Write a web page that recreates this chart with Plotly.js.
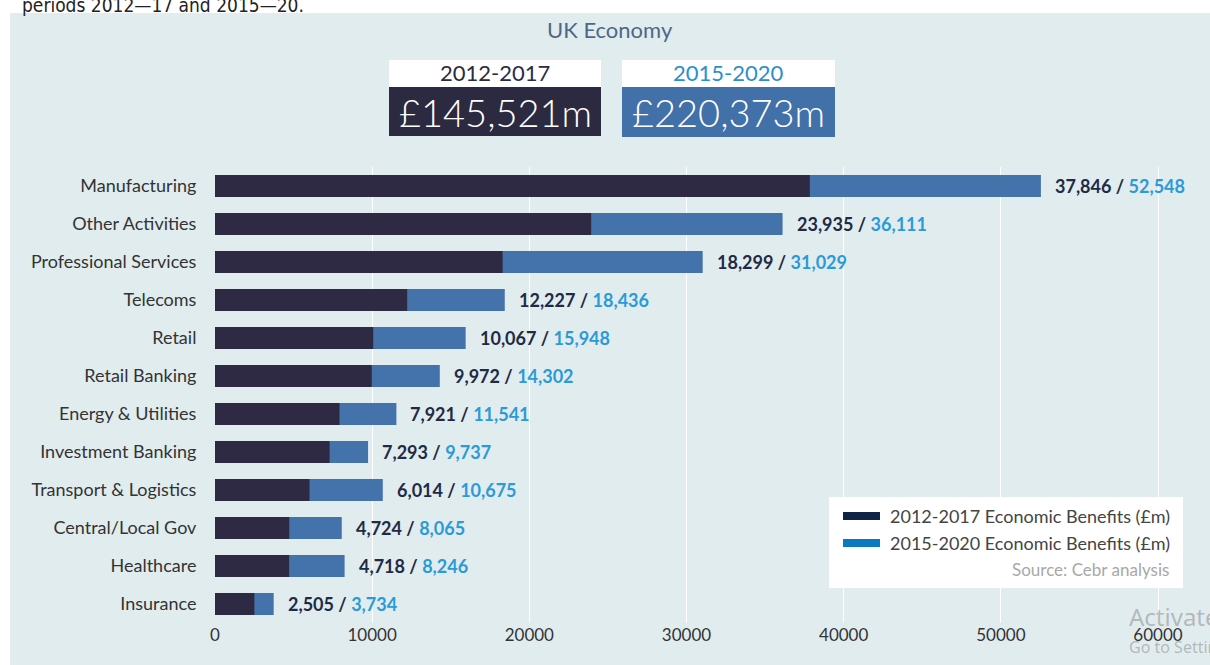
<!DOCTYPE html>
<html>
<head>
<meta charset="utf-8">
<script src="https://cdn.plot.ly/plotly-3.0.1.min.js"></script>
<style>html,body{margin:0;padding:0;background:#fff;}#chart{width:1210px;height:665px;}</style>
</head>
<body>
<div id="chart"></div>
<script>
const categories = ["Manufacturing","Other Activities","Professional Services","Telecoms","Retail","Retail Banking","Energy & Utilities","Investment Banking","Transport & Logistics","Central/Local Gov","Healthcare","Insurance"];
const benefits2012_2017 = [37846,23935,18299,12227,10067,9972,7921,7293,6014,4724,4718,2505];
const benefits2015_2020 = [52548,36111,31029,18436,15948,14302,11541,9737,10675,8065,8246,3734];
const xTicks = [0,10000,20000,30000,40000,50000,60000];
const totalLabels = ["2012-2017","2015-2020"];
const totalValues = ["£145,521m","£220,373m"];
const seriesNames = ["2012-2017 Economic Benefits (£m)","2015-2020 Economic Benefits (£m)"];

const W = 1210, H = 665, L = 215, R = 10, T = 167, B = 42;
const pw = W - L - R, ph = H - T - B;
const px = x => (x - L) / pw;
const py = y => (H - B - y) / ph;

const FONT = "Lato, 'Open Sans', sans-serif";
const darkBar = "#2e2a43", blueBar = "#4472aa";
const darkTxt = "#1f2a44", blueTxt = "#2b9ad8";
const fmt = v => v.toLocaleString('en-US');

const traces = [
  {type:'bar', orientation:'h', y:categories, x:benefits2015_2020, name:seriesNames[1],
   marker:{color:blueBar}, width:0.58, hoverinfo:'x+y', showlegend:false},
  {type:'bar', orientation:'h', y:categories, x:benefits2012_2017, name:seriesNames[0],
   marker:{color:darkBar}, width:0.58, hoverinfo:'x+y', showlegend:false}
];

const annotations = categories.map((c,i) => ({
  x: benefits2015_2020[i], y: c, xref:'x', yref:'y', xanchor:'left', xshift:12,
  showarrow:false, font:{family:FONT, size:18, color:darkTxt},
  text:'<b><span style="color:'+darkTxt+'">'+fmt(benefits2012_2017[i])+'</span> / <span style="color:'+blueTxt+'">'+fmt(benefits2015_2020[i])+'</span></b>'
}));

function pa(x, y, text, font, xa, ya) {
  return {xref:'paper', yref:'paper', x:px(x), y:py(y), text:text, showarrow:false,
    xanchor:xa||'center', yanchor:ya||'middle', font:Object.assign({family:FONT}, font)};
}
annotations.push(
  pa(20, 18, "periods 2012—17 and 2015—20.", {size:19, color:'#222', family:"'Liberation Sans Narrow', 'DejaVu Sans Condensed', sans-serif"}, 'left', 'bottom'),
  pa(610, 30, "UK Economy", {size:22, color:'#4d6787'}),
  pa(495, 73, totalLabels[0], {size:22, color:'#2b2b45'}),
  pa(495, 112, totalValues[0], {size:38, color:'#ffffff', family:"Lato Light, Lato, sans-serif"}),
  pa(728, 73, totalLabels[1], {size:22, color:'#2a8fcf'}),
  pa(728, 112, totalValues[1], {size:38, color:'#ffffff', family:"Lato Light, Lato, sans-serif"}),
  pa(888, 516, seriesNames[0], {size:18, color:'#444'}, 'left'),
  pa(888, 543, seriesNames[1], {size:18, color:'#444'}, 'left'),
  pa(1171, 569, "Source: Cebr analysis", {size:17, color:'#a8a8a8'}, 'right'),
  pa(1127, 616, "Activate Windows", {size:24, color:'rgba(140,140,140,0.55)', family:"'Noto Sans', sans-serif"}, 'left'),
  pa(1127, 647, "Go to Settings to activate Windows.", {size:16, color:'rgba(140,140,140,0.55)', family:"'Noto Sans', sans-serif"}, 'left')
);

function rect(x0,y0,x1,y1,color,layer){
  return {type:'rect', xref:'paper', yref:'paper', x0:px(x0), x1:px(x1), y0:py(y1), y1:py(y0),
    fillcolor:color, line:{width:0}, layer:layer||'above'};
}
const shapes = [
  rect(10,13,1215,670,'#e1ecef','below'),
  rect(389,60,601,87,'#ffffff'),
  rect(389,87,601,136,'#2b2a40'),
  rect(622,60,835,87,'#ffffff'),
  rect(622,87,835,137,'#4270a8'),
  rect(829,497,1183,588,'#ffffff'),
  rect(843,512,880,520,'#0f2348'),
  rect(843,539,880,547,'#0b79c1')
];

const layout = {
  width:W, height:H, margin:{l:L, r:R, t:T, b:B},
  paper_bgcolor:'#ffffff', plot_bgcolor:'rgba(0,0,0,0)',
  barmode:'overlay', showlegend:false,
  font:{family:FONT, size:16, color:'#333'},
  xaxis:{range:[0,62670], tickvals:xTicks, ticktext:xTicks.map(String), showgrid:true, gridcolor:'#ffffff', gridwidth:1,
    zeroline:false, showline:false, tickfont:{family:FONT, size:17, color:'#333'}, fixedrange:true},
  yaxis:{type:'category', autorange:'reversed', showgrid:false, zeroline:false, showline:false,
    ticks:'outside', ticklen:14, tickcolor:'rgba(0,0,0,0)', tickfont:{family:FONT, size:18, color:'#333'}, fixedrange:true},
  annotations:annotations, shapes:shapes
};
Plotly.newPlot('chart', traces, layout, {displayModeBar:false, staticPlot:true});
</script>
</body>
</html>
